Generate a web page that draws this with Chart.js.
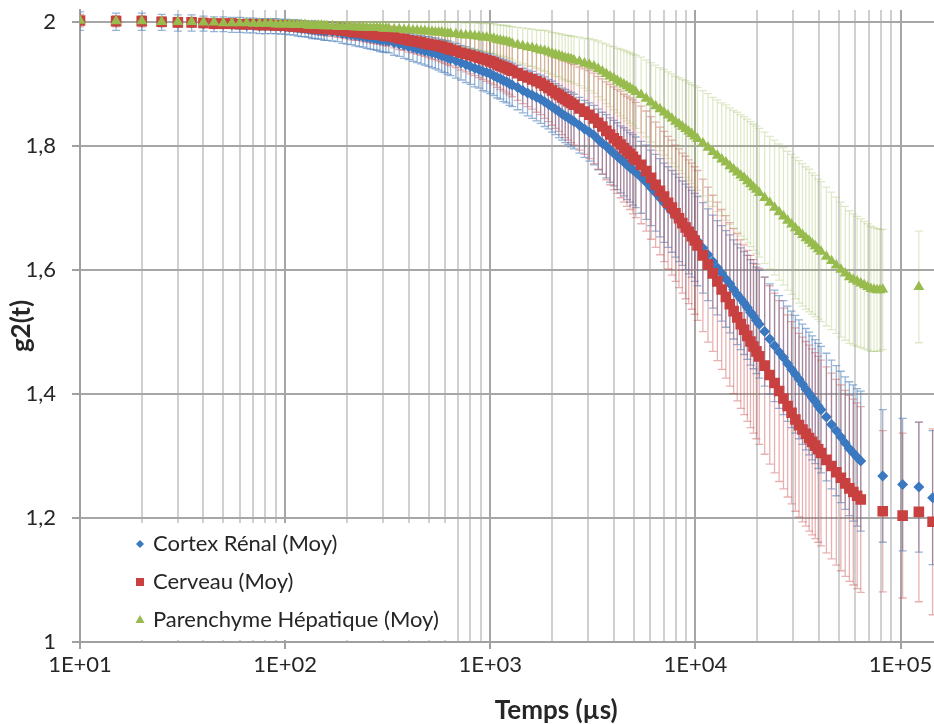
<!DOCTYPE html>
<html>
<head>
<meta charset="utf-8">
<title>g2(t) - Temps (µs)</title>
<script src="https://cdn.jsdelivr.net/npm/chart.js@4.4.1/dist/chart.umd.min.js"></script>
<style>
  html, body { margin: 0; padding: 0; background: #fff; overflow: hidden; }
  #wrap { width: 1040px; height: 724px; }
</style>
</head>
<body>
<div id="wrap"><canvas id="g2Area" width="1040" height="724"></canvas></div>
<script>
"use strict";

// lag times (µs), shared by the three series
var lags = [10, 15, 20, 25, 30, 35, 40, 45, 50, 55, 60, 65, 70, 75, 80, 85, 90, 95, 100, 105, 110, 115, 120, 125, 130, 135, 140, 145, 150, 155, 160,
  170, 180, 190, 200, 210, 220, 230, 240, 250, 260, 270, 280, 290, 300, 310, 320,
  340, 360, 380, 400, 420, 440, 460, 480, 500, 520, 540, 560, 580, 600, 620, 640,
  680, 720, 760, 800, 840, 880, 920, 960, 1000, 1040, 1080, 1120, 1160, 1200, 1240, 1280,
  1360, 1440, 1520, 1600, 1680, 1760, 1840, 1920, 2000, 2080, 2160, 2240, 2320, 2400, 2480, 2560,
  2720, 2880, 3040, 3200, 3360, 3520, 3680, 3840, 4000, 4160, 4320, 4480, 4640, 4800, 4960, 5120,
  5440, 5760, 6080, 6400, 6720, 7040, 7360, 7680, 8000, 8320, 8640, 8960, 9280, 9600, 9920, 10240,
  10880, 11520, 12160, 12800, 13440, 14080, 14720, 15360, 16000, 16640, 17280, 17920, 18560, 19200, 19840, 20480,
  21760, 23040, 24320, 25600, 26880, 28160, 29440, 30720, 32000, 33280, 34560, 35840, 37120, 38400, 39680, 40960,
  43520, 46080, 48640, 51200, 53760, 56320, 58880, 61440, 64000, 66560, 69120, 71680, 74240, 76800, 79360, 81920,
  102400, 122880, 143360];

var seriesNames = ['Cortex Rénal (Moy)', 'Cerveau (Moy)', 'Parenchyme Hépatique (Moy)'];

var cortexMoy = [2.002, 2.001, 2.001, 2.000, 1.999, 1.999, 1.998, 1.997, 1.997, 1.996, 1.996, 1.995, 1.995, 1.994, 1.994, 1.994, 1.994, 1.993, 1.993, 1.992, 1.992, 1.991, 1.990, 1.990, 1.989, 1.988, 1.988, 1.987, 1.987, 1.986, 1.986,
  1.985, 1.984, 1.982, 1.981, 1.980, 1.979, 1.978, 1.977, 1.976, 1.975, 1.974, 1.973, 1.972, 1.971, 1.971, 1.970,
  1.967, 1.965, 1.963, 1.961, 1.959, 1.957, 1.956, 1.954, 1.953, 1.951, 1.950, 1.948, 1.946, 1.945, 1.943, 1.941,
  1.938, 1.935, 1.932, 1.929, 1.926, 1.924, 1.921, 1.919, 1.917, 1.914, 1.911, 1.909, 1.906, 1.904, 1.901, 1.899,
  1.895, 1.890, 1.886, 1.883, 1.879, 1.876, 1.872, 1.868, 1.864, 1.860, 1.856, 1.852, 1.849, 1.846, 1.843, 1.840,
  1.834, 1.828, 1.823, 1.818, 1.811, 1.805, 1.800, 1.794, 1.789, 1.784, 1.779, 1.775, 1.770, 1.766, 1.762, 1.758,
  1.750, 1.742, 1.733, 1.725, 1.717, 1.709, 1.702, 1.695, 1.688, 1.682, 1.676, 1.670, 1.664, 1.659, 1.653, 1.647,
  1.636, 1.625, 1.614, 1.604, 1.595, 1.586, 1.578, 1.569, 1.561, 1.554, 1.547, 1.540, 1.532, 1.526, 1.519, 1.513,
  1.501, 1.489, 1.478, 1.468, 1.459, 1.449, 1.440, 1.432, 1.424, 1.416, 1.408, 1.401, 1.394, 1.388, 1.381, 1.375,
  1.363, 1.351, 1.341, 1.331, 1.321, 1.312, 1.305, 1.298, 1.292, null, null, null, null, null, null, 1.268,
  1.254, 1.250, 1.233];
var cortexErr = [0.015, 0.014, 0.014, 0.013, 0.013, 0.013, 0.012, 0.012, 0.012, 0.012, 0.012, 0.012, 0.012, 0.012, 0.012, 0.012, 0.012, 0.012, 0.012, 0.012, 0.012, 0.013, 0.013, 0.013, 0.013, 0.014, 0.014, 0.014, 0.014, 0.015, 0.015,
  0.015, 0.015, 0.016, 0.016, 0.016, 0.017, 0.017, 0.017, 0.018, 0.018, 0.018, 0.018, 0.019, 0.019, 0.019, 0.019,
  0.020, 0.020, 0.021, 0.021, 0.022, 0.022, 0.023, 0.023, 0.024, 0.024, 0.025, 0.025, 0.026, 0.026, 0.027, 0.027,
  0.028, 0.028, 0.029, 0.029, 0.030, 0.030, 0.031, 0.031, 0.032, 0.032, 0.033, 0.033, 0.034, 0.034, 0.035, 0.035,
  0.036, 0.036, 0.037, 0.038, 0.038, 0.039, 0.040, 0.040, 0.041, 0.041, 0.042, 0.042, 0.043, 0.043, 0.044, 0.044,
  0.045, 0.046, 0.047, 0.048, 0.049, 0.050, 0.051, 0.052, 0.053, 0.054, 0.054, 0.055, 0.056, 0.056, 0.057, 0.057,
  0.058, 0.060, 0.061, 0.062, 0.063, 0.064, 0.065, 0.066, 0.067, 0.068, 0.068, 0.069, 0.070, 0.070, 0.071, 0.072,
  0.073, 0.074, 0.075, 0.076, 0.077, 0.078, 0.079, 0.080, 0.081, 0.082, 0.083, 0.084, 0.085, 0.085, 0.086, 0.087,
  0.088, 0.089, 0.090, 0.091, 0.092, 0.093, 0.094, 0.095, 0.096, 0.097, 0.098, 0.099, 0.100, 0.100, 0.101, 0.102,
  0.103, 0.104, 0.105, 0.106, 0.107, 0.108, 0.110, 0.111, 0.113, null, null, null, null, null, null, 0.107,
  0.107, 0.105, 0.108];

var cerveauMoy = [2.003, 2.002, 2.002, 2.001, 2.000, 2.000, 1.999, 1.998, 1.998, 1.998, 1.997, 1.997, 1.997, 1.996, 1.996, 1.996, 1.995, 1.995, 1.995, 1.994, 1.994, 1.993, 1.993, 1.992, 1.992, 1.991, 1.991, 1.990, 1.990, 1.990, 1.989,
  1.989, 1.988, 1.987, 1.986, 1.985, 1.984, 1.984, 1.983, 1.982, 1.981, 1.981, 1.980, 1.980, 1.979, 1.978, 1.978,
  1.976, 1.974, 1.973, 1.971, 1.970, 1.969, 1.968, 1.966, 1.965, 1.964, 1.963, 1.962, 1.961, 1.959, 1.958, 1.956,
  1.954, 1.951, 1.949, 1.947, 1.945, 1.943, 1.941, 1.939, 1.937, 1.935, 1.932, 1.930, 1.928, 1.926, 1.924, 1.922,
  1.918, 1.914, 1.911, 1.908, 1.905, 1.902, 1.898, 1.894, 1.890, 1.886, 1.883, 1.879, 1.876, 1.873, 1.870, 1.867,
  1.861, 1.856, 1.851, 1.845, 1.838, 1.832, 1.825, 1.819, 1.813, 1.808, 1.803, 1.797, 1.792, 1.788, 1.783, 1.778,
  1.770, 1.760, 1.749, 1.738, 1.728, 1.719, 1.709, 1.701, 1.692, 1.684, 1.676, 1.669, 1.662, 1.655, 1.648, 1.640,
  1.624, 1.609, 1.595, 1.582, 1.569, 1.557, 1.545, 1.534, 1.524, 1.513, 1.504, 1.494, 1.485, 1.477, 1.469, 1.461,
  1.446, 1.431, 1.418, 1.405, 1.393, 1.381, 1.370, 1.359, 1.350, 1.343, 1.336, 1.329, 1.323, 1.317, 1.311, 1.305,
  1.294, 1.284, 1.274, 1.265, 1.256, 1.248, 1.242, 1.236, 1.230, null, null, null, null, null, null, 1.211,
  1.204, 1.210, 1.194];
var cerveauErr = [0.010, 0.009, 0.009, 0.008, 0.008, 0.008, 0.008, 0.008, 0.008, 0.008, 0.008, 0.008, 0.008, 0.008, 0.008, 0.008, 0.008, 0.008, 0.008, 0.008, 0.008, 0.009, 0.009, 0.009, 0.009, 0.010, 0.010, 0.010, 0.010, 0.011, 0.011,
  0.011, 0.012, 0.012, 0.012, 0.013, 0.013, 0.013, 0.014, 0.014, 0.014, 0.015, 0.015, 0.015, 0.016, 0.016, 0.016,
  0.017, 0.018, 0.018, 0.019, 0.019, 0.020, 0.021, 0.021, 0.022, 0.023, 0.023, 0.024, 0.025, 0.025, 0.026, 0.026,
  0.027, 0.028, 0.029, 0.030, 0.031, 0.032, 0.033, 0.034, 0.035, 0.036, 0.037, 0.038, 0.039, 0.040, 0.041, 0.042,
  0.044, 0.045, 0.047, 0.048, 0.050, 0.051, 0.053, 0.054, 0.056, 0.057, 0.059, 0.060, 0.062, 0.063, 0.064, 0.065,
  0.067, 0.069, 0.071, 0.073, 0.075, 0.077, 0.079, 0.081, 0.083, 0.084, 0.086, 0.087, 0.089, 0.090, 0.092, 0.093,
  0.095, 0.097, 0.099, 0.101, 0.103, 0.105, 0.107, 0.109, 0.110, 0.112, 0.113, 0.115, 0.116, 0.118, 0.119, 0.121,
  0.123, 0.125, 0.126, 0.128, 0.129, 0.131, 0.132, 0.133, 0.135, 0.136, 0.137, 0.138, 0.139, 0.140, 0.141, 0.142,
  0.143, 0.144, 0.145, 0.146, 0.146, 0.147, 0.147, 0.148, 0.148, 0.149, 0.149, 0.150, 0.150, 0.150, 0.150, 0.150,
  0.150, 0.150, 0.150, 0.150, 0.150, 0.150, 0.150, 0.150, 0.150, null, null, null, null, null, null, 0.130,
  0.133, 0.145, 0.150];

var parenchymeMoy = [2.003, 2.002, 2.002, 2.001, 2.001, 2.001, 2.000, 2.000, 1.999, 1.999, 1.999, 1.999, 1.998, 1.998, 1.998, 1.998, 1.997, 1.997, 1.997, 1.997, 1.996, 1.996, 1.996, 1.996, 1.995, 1.995, 1.995, 1.995, 1.995, 1.994, 1.994,
  1.994, 1.993, 1.993, 1.993, 1.993, 1.992, 1.992, 1.992, 1.991, 1.991, 1.991, 1.991, 1.991, 1.990, 1.990, 1.990,
  1.989, 1.989, 1.988, 1.988, 1.987, 1.987, 1.986, 1.986, 1.985, 1.985, 1.984, 1.984, 1.984, 1.983, 1.982, 1.982,
  1.981, 1.980, 1.979, 1.979, 1.978, 1.977, 1.976, 1.976, 1.975, 1.974, 1.972, 1.971, 1.970, 1.969, 1.968, 1.966,
  1.964, 1.962, 1.960, 1.959, 1.957, 1.955, 1.954, 1.952, 1.950, 1.948, 1.947, 1.945, 1.943, 1.942, 1.941, 1.939,
  1.937, 1.934, 1.932, 1.929, 1.925, 1.921, 1.917, 1.913, 1.910, 1.906, 1.903, 1.900, 1.897, 1.894, 1.891, 1.888,
  1.883, 1.877, 1.871, 1.865, 1.860, 1.855, 1.850, 1.845, 1.840, 1.836, 1.832, 1.828, 1.824, 1.820, 1.816, 1.812,
  1.805, 1.798, 1.791, 1.785, 1.779, 1.774, 1.768, 1.763, 1.758, 1.753, 1.749, 1.744, 1.739, 1.734, 1.730, 1.725,
  1.717, 1.709, 1.701, 1.694, 1.687, 1.680, 1.674, 1.668, 1.662, 1.657, 1.652, 1.648, 1.643, 1.639, 1.634, 1.630,
  1.622, 1.615, 1.608, 1.601, 1.595, 1.589, 1.585, 1.582, 1.579, 1.576, 1.573, 1.570, 1.569, 1.568, 1.568, 1.569,
  null, 1.573, null];
var parenchymeErr = [0.006, 0.006, 0.006, 0.006, 0.006, 0.006, 0.006, 0.006, 0.006, 0.005, 0.005, 0.005, 0.005, 0.005, 0.005, 0.005, 0.005, 0.005, 0.005, 0.005, 0.005, 0.006, 0.006, 0.006, 0.006, 0.006, 0.006, 0.007, 0.007, 0.007, 0.007,
  0.007, 0.008, 0.008, 0.008, 0.008, 0.009, 0.009, 0.009, 0.009, 0.010, 0.010, 0.010, 0.010, 0.011, 0.011, 0.011,
  0.012, 0.012, 0.013, 0.013, 0.014, 0.014, 0.015, 0.015, 0.016, 0.016, 0.017, 0.017, 0.018, 0.018, 0.019, 0.019,
  0.019, 0.020, 0.020, 0.021, 0.021, 0.022, 0.022, 0.023, 0.023, 0.024, 0.024, 0.025, 0.025, 0.026, 0.026, 0.027,
  0.028, 0.029, 0.030, 0.030, 0.031, 0.032, 0.033, 0.034, 0.034, 0.035, 0.035, 0.036, 0.036, 0.037, 0.037, 0.038,
  0.039, 0.040, 0.042, 0.043, 0.045, 0.046, 0.048, 0.049, 0.051, 0.052, 0.054, 0.055, 0.056, 0.057, 0.058, 0.059,
  0.061, 0.062, 0.064, 0.066, 0.067, 0.069, 0.070, 0.072, 0.073, 0.075, 0.076, 0.078, 0.079, 0.080, 0.082, 0.083,
  0.085, 0.087, 0.088, 0.090, 0.091, 0.093, 0.094, 0.095, 0.097, 0.098, 0.099, 0.100, 0.101, 0.102, 0.103, 0.104,
  0.106, 0.107, 0.109, 0.110, 0.111, 0.112, 0.113, 0.114, 0.115, 0.115, 0.115, 0.115, 0.114, 0.114, 0.113, 0.113,
  0.112, 0.111, 0.110, 0.109, 0.108, 0.107, 0.106, 0.105, 0.104, 0.103, 0.102, 0.101, 0.100, 0.099, 0.098, 0.097,
  null, 0.090, null];

var xTickValues = [10, 100, 1000, 10000, 100000];
var xTickLabels = ['1E+01', '1E+02', '1E+03', '1E+04', '1E+05'];
var yTickValues = [1, 1.2, 1.4, 1.6, 1.8, 2];
var yTickLabels = ['1', '1,2', '1,4', '1,6', '1,8', '2'];

var BLUE = '#3a78bf', RED = '#c8403f', GREEN = '#98bb4e';
var FONT = 'Lato, "Open Sans", sans-serif';

// blue first, red over it, green on top (like the original)
var series = [
  {name: seriesNames[0], values: cortexMoy, errors: cortexErr, color: BLUE, err: 'rgba(79,129,189,0.6)', style: 'rectRot', radius: 5.5},
  {name: seriesNames[1], values: cerveauMoy, errors: cerveauErr, color: RED, err: 'rgba(200,70,70,0.42)', style: 'rect', radius: 7.5},
  {name: seriesNames[2], values: parenchymeMoy, errors: parenchymeErr, color: GREEN, err: 'rgba(155,187,89,0.32)', style: 'triangle', radius: 6.3}
];

function toPoints(values) {
  var pts = [];
  lags.forEach(function(t, i) {
    if (values[i] !== null) pts.push({x: t, y: values[i]});
  });
  return pts;
}

function isDecade(v) {
  return xTickValues.indexOf(v) >= 0;
}

var errorBars = {
  id: 'errorBars',
  beforeDatasetsDraw: function(chart) {
    var c = chart.ctx, xs = chart.scales.x, ys = chart.scales.y, a = chart.chartArea;
    c.save();
    // white box behind the legend
    c.fillStyle = '#fff';
    c.fillRect(96, 523, 360, 117);
    c.beginPath();
    c.rect(a.left, a.top, a.right - a.left, a.bottom - a.top);
    c.clip();
    c.lineWidth = 1.3;
    series.forEach(function(s) {
      c.strokeStyle = s.err;
      lags.forEach(function(t, i) {
        var v = s.values[i], e = s.errors[i];
        if (v === null || e === null) return;
        var px = xs.getPixelForValue(t);
        var top = ys.getPixelForValue(v + e), bot = ys.getPixelForValue(v - e);
        c.beginPath();
        c.moveTo(px, top); c.lineTo(px, bot);
        c.moveTo(px - 4, top); c.lineTo(px + 4, top);
        c.moveTo(px - 4, bot); c.lineTo(px + 4, bot);
        c.stroke();
      });
    });
    c.restore();
  }
};

var legendBox = {
  id: 'legendBox',
  afterDatasetsDraw: function(chart) {
    var c = chart.ctx;
    var rows = [544, 582, 620], mx = 140;
    c.save();
    c.fillStyle = BLUE;
    c.beginPath();
    c.moveTo(mx, rows[0] - 4); c.lineTo(mx + 4, rows[0]); c.lineTo(mx, rows[0] + 4); c.lineTo(mx - 4, rows[0]);
    c.closePath(); c.fill();
    c.fillStyle = RED;
    c.fillRect(mx - 4, rows[1] - 4, 8, 8);
    c.fillStyle = GREEN;
    c.beginPath();
    c.moveTo(mx, rows[2] - 5); c.lineTo(mx + 4.5, rows[2] + 3); c.lineTo(mx - 4.5, rows[2] + 3);
    c.closePath(); c.fill();
    c.fillStyle = '#262626';
    c.font = '22px ' + FONT;
    c.textAlign = 'left';
    c.textBaseline = 'middle';
    seriesNames.forEach(function(n, i) { c.fillText(n, 153, rows[i]); });
    c.restore();
  }
};

var g2Chart = new Chart(document.getElementById('g2Area').getContext('2d'), {
  type: 'scatter',
  data: {
    datasets: series.map(function(s, i) {
      return {
        label: s.name,
        data: toPoints(s.values),
        pointStyle: s.style,
        pointRadius: s.radius,
        pointBackgroundColor: s.color,
        pointBorderColor: s.color,
        pointBorderWidth: 0,
        showLine: false,
        order: 3 - i
      };
    })
  },
  options: {
    responsive: false,
    animation: false,
    events: [],
    layout: {padding: {top: 10, right: 6, left: 0, bottom: 0}},
    plugins: {legend: {display: false}, tooltip: {enabled: false}},
    scales: {
      x: {
        type: 'logarithmic',
        min: 10,
        max: 440000,
        afterBuildTicks: function(scale) {
          var t = [];
          xTickValues.forEach(function(d) {
            for (var m = 1; m <= 9; m++) if (d * m <= scale.max) t.push({value: d * m});
          });
          scale.ticks = t;
        },
        afterFit: function(scale) {
          scale.height = 82;
          scale.paddingLeft = 0;
          scale.paddingRight = 0;
        },
        ticks: {
          autoSkip: false,
          maxRotation: 0,
          padding: 3,
          color: '#262626',
          font: {family: FONT, size: 22},
          callback: function(v) {
            var i = xTickValues.indexOf(v);
            return i >= 0 ? xTickLabels[i] : '';
          }
        },
        grid: {
          color: function(ctx) { return ctx.tick && isDecade(ctx.tick.value) ? '#a6a6a6' : '#d0d0d0'; },
          lineWidth: 2,
          tickLength: 7,
          tickColor: function(ctx) { return ctx.tick && isDecade(ctx.tick.value) ? '#a0a0a0' : 'rgba(0,0,0,0)'; }
        },
        border: {color: '#a0a0a0', width: 2},
        title: {
          display: true,
          text: 'Temps (µs)',
          color: '#262626',
          font: {family: FONT, size: 26, weight: 'bold', lineHeight: 1},
          padding: {top: 0, bottom: 0}
        }
      },
      y: {
        type: 'linear',
        min: 1,
        max: 2.02,
        afterBuildTicks: function(scale) {
          scale.ticks = yTickValues.map(function(v) { return {value: v}; });
        },
        afterFit: function(scale) {
          scale.width = 80;
          scale.paddingTop = 0;
          scale.paddingBottom = 0;
        },
        ticks: {
          padding: 16,
          color: '#262626',
          font: {family: FONT, size: 22},
          callback: function(v) {
            for (var i = 0; i < yTickValues.length; i++) {
              if (Math.abs(yTickValues[i] - v) < 1e-6) return yTickLabels[i];
            }
            return '';
          }
        },
        grid: {color: '#a6a6a6', lineWidth: 2, tickLength: 8, tickColor: '#a0a0a0'},
        border: {color: '#a0a0a0', width: 2},
        title: {
          display: true,
          text: 'g2(t)',
          color: '#262626',
          font: {family: FONT, size: 26, weight: 'bold', lineHeight: 1},
          padding: {top: 9, bottom: 0}
        }
      }
    }
  },
  plugins: [errorBars, legendBox]
});
</script>
</body>
</html>
